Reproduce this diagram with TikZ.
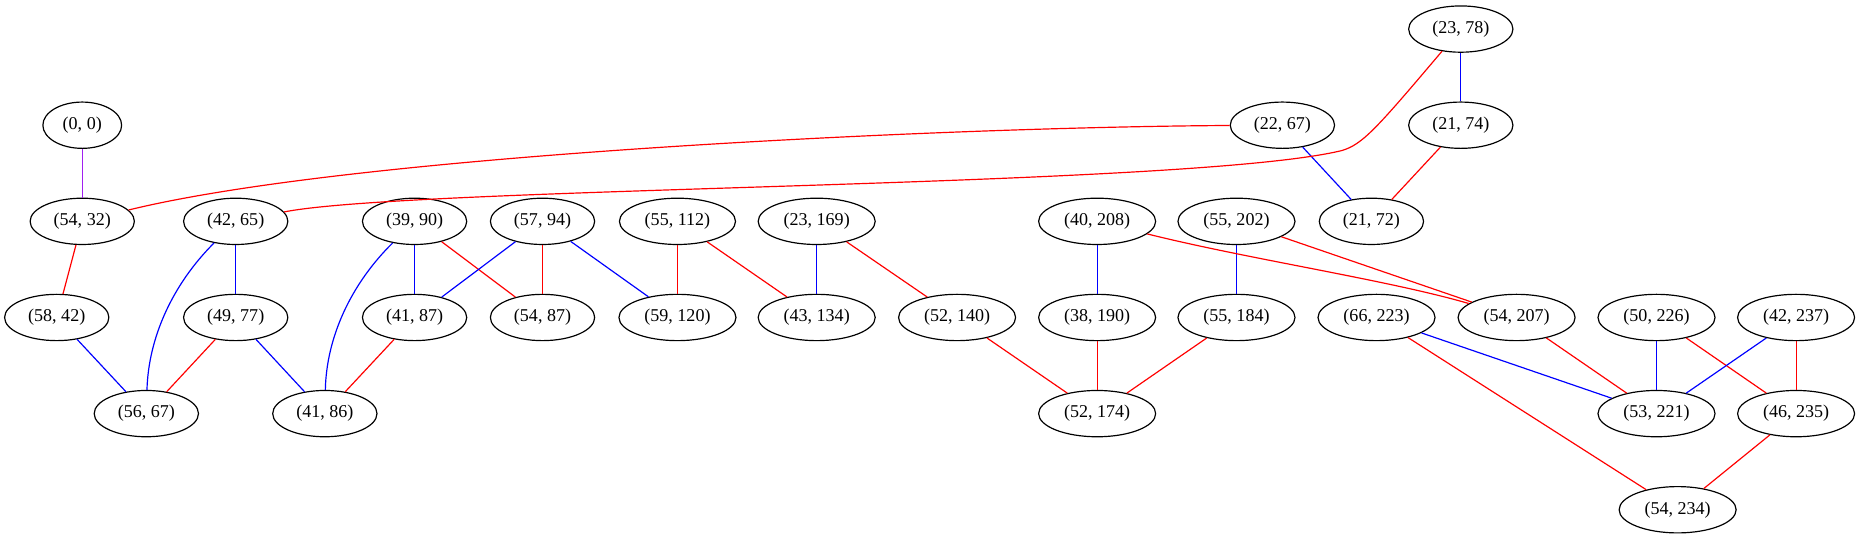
\documentclass[tikz,border=0pt]{standalone}
\usepackage{fontspec}
\setmainfont{Liberation Serif}
\usepackage{tikz}
\usetikzlibrary{positioning, shapes.geometric, graphs}
\usepackage{xcolor}
\definecolor{gvpurple}{HTML}{A020F0}

\begin{document}
\begin{tikzpicture}[x=1pt, y=1pt, node distance=81pt, on grid, line width=1pt,
    pair/.style={draw, ellipse, inner xsep=7pt, inner ysep=2pt, minimum height=39pt, font=\fontsize{15.2pt}{18pt}\selectfont}]
    \useasboundingbox (-69.3,105.5) rectangle (1498.7,-348.5);

    \node[pair] (p0-0) at (0,0) {(0, 0)};
    \node[pair, below=of p0-0] (p54-32) {(54, 32)};
    \node[pair, right=129.3pt of p54-32] (p42-65) {(42, 65)};
    \node[pair, right=150.7pt of p42-65] (p39-90) {(39, 90)};
    \node[pair, right=107.8pt of p39-90] (p57-94) {(57, 94)};
    \node[pair, right=113.7pt of p57-94] (p55-112) {(55, 112)};
    \node[pair, right=117.3pt of p55-112] (p23-169) {(23, 169)};
    \node[pair, right=236.3pt of p23-169] (p40-208) {(40, 208)};
    \node[pair, right=117.4pt of p40-208] (p55-202) {(55, 202)};
    \node[pair, right=113.7pt of p55-202] (p21-72) {(21, 72)};

    \node[pair, above right=81pt and 38.7pt of p55-202] (p22-67) {(22, 67)};
    \node[pair, right=150.3pt of p22-67] (p21-74) {(21, 74)};
    \node[pair, above=of p21-74] (p23-78) {(23, 78)};

    \node[pair, below left=81pt and 21.5pt of p54-32] (p58-42) {(58, 42)};
    \node[pair, below=of p42-65] (p49-77) {(49, 77)};
    \node[pair, below=of p39-90] (p41-87) {(41, 87)};
    \node[pair, below=of p57-94] (p54-87) {(54, 87)};
    \node[pair, below=of p55-112] (p59-120) {(59, 120)};
    \node[pair, below=of p23-169] (p43-134) {(43, 134)};
    \node[pair, right=118.3pt of p43-134] (p52-140) {(52, 140)};
    \node[pair, below=of p40-208] (p38-190) {(38, 190)};
    \node[pair, below=of p55-202] (p55-184) {(55, 184)};
    \node[pair, right=118pt of p55-184] (p66-223) {(66, 223)};
    \node[pair, right=118pt of p66-223] (p54-207) {(54, 207)};
    \node[pair, right=117.9pt of p54-207] (p50-226) {(50, 226)};
    \node[pair, right=117.6pt of p50-226] (p42-237) {(42, 237)};

    \node[pair, below right=81pt and 75.5pt of p58-42] (p56-67) {(56, 67)};
    \node[pair, below right=81pt and 75.1pt of p49-77] (p41-86) {(41, 86)};
    \node[pair, below=of p38-190] (p52-174) {(52, 174)};
    \node[pair, below=of p50-226] (p53-221) {(53, 221)};
    \node[pair, below=of p42-237] (p46-235) {(46, 235)};

    \node[pair, below right=81pt and 17.8pt of p53-221] (p54-234) {(54, 234)};

    \graph{
    (p0-0) --[gvpurple] (p54-32) --[red] (p58-42) --[blue] (p56-67);
    (p42-65) --[blue] (p49-77) --[red] (p56-67);
    (p49-77) --[blue] (p41-86);
    (p39-90) --[blue] (p41-87) --[red] (p41-86);
    (p39-90) --[red] (p54-87);
    (p57-94) --[blue] (p41-87);
    (p57-94) --[red] (p54-87);
    (p57-94) --[blue] (p59-120);
    (p55-112) --[red] (p59-120);
    (p55-112) --[red] (p43-134);
    (p23-169) --[blue] (p43-134);
    (p23-169) --[red] (p52-140) --[red] (p52-174);
    (p40-208) --[blue] (p38-190) --[red] (p52-174);
    (p55-202) --[blue] (p55-184) --[red] (p52-174);
    (p55-202) --[red] (p54-207) --[red] (p53-221);
    (p66-223) --[blue] (p53-221);
    (p66-223) --[red] (p54-234);
    (p50-226) --[blue] (p53-221);
    (p50-226) --[red] (p46-235) --[red] (p54-234);
    (p42-237) --[blue] (p53-221);
    (p42-237) --[red] (p46-235);
    (p23-78) --[blue] (p21-74) --[red] (p21-72);
    (p22-67) --[blue] (p21-72);
    };

    \draw[red] (p22-67) .. controls (730.7,-1.5) and (230.7,-24.5) .. (p54-32);
    \draw[red] (p23-78) .. controls (1090.7,-2.5) and (1078.7,-16.5) .. (1060.7,-21.5)
        .. controls (930.7,-52.5) and (280.7,-51.5) .. (p42-65);
    \draw[blue] (p42-65) .. controls (75.7,-134.5) and (55.7,-179.5) .. (p56-67);
    \draw[blue] (p39-90) .. controls (225.7,-134.5) and (205.7,-179.5) .. (p41-86);
    \draw[red] (p40-208) .. controls (980.7,-112.5) and (1100.7,-130.5) .. (p54-207);
\end{tikzpicture}
\end{document}
